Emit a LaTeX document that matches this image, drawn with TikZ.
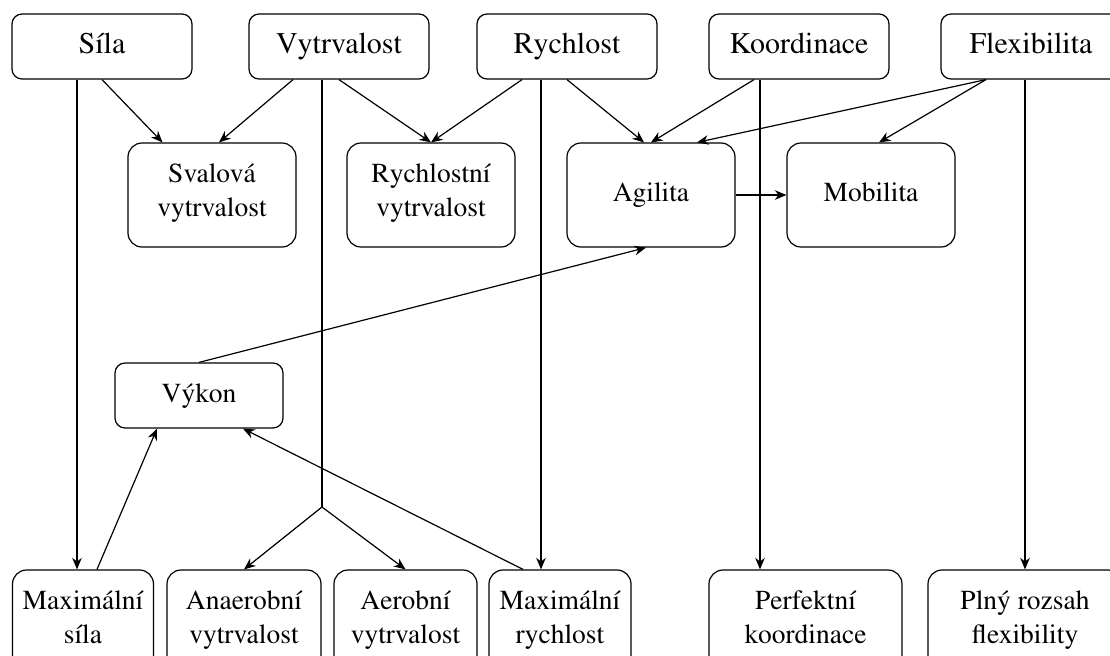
\documentclass[tikz,border=0pt]{standalone}
\usepackage[T1]{fontenc}
\usepackage{mathptmx}
\usetikzlibrary{arrows.meta}
\tikzset{skill-line/.style={line width=0.6pt}}
\tikzset{>={Stealth[length=5.8pt,width=4.8pt]}}
\tikzset{skill-node/.style={draw, line width=0.6pt, inner sep=0, align=center, minimum width=90pt, minimum height=32.5pt, rounded corners=5pt, font=\fontsize{15}{18}\selectfont, execute at begin node=\strut, execute at end node=\strut}}
\tikzset{skill-small/.style={font=\fontsize{13.75}{16.8}\selectfont}}
\tikzset{skill-tall/.style={skill-node, skill-small, minimum width=84pt, minimum height=52pt, rounded corners=7pt}}

\begin{document}
\begin{tikzpicture}[x=0.5pt, y=-0.5pt]
            \useasboundingbox (0,0) rectangle (1110,655);

            % horni rada
            \node[skill-node] (sila) at (102,46.5) {Síla};
            \node[skill-node] (vytrvalost) at (339,46.5) {Vytrvalost};
            \node[skill-node] (rychlost) at (567,46.5) {Rychlost};
            \node[skill-node] (koordinace) at (799,46.5) {Koordinace};
            \node[skill-node] (flexibilita) at (1031,46.5) {Flexibilita};

            % druha rada
            \node[skill-tall] (svalova) at (212,195) {Svalová\\vytrvalost};
            \node[skill-tall] (rychlostni) at (431,195) {Rychlostní\\vytrvalost};
            \node[skill-tall] (agilita) at (651,195) {Agilita};
            \node[skill-tall] (mobilita) at (871,195) {Mobilita};

            \node[skill-node, skill-small, minimum width=84pt] (vykon) at (199,395.5) {Výkon};

            % dolni rada
            \node[skill-tall, minimum width=70.5pt] (maxsila) at (83,622) {Maximální\\síla};
            \node[skill-tall, minimum width=77pt] (anaerobni) at (244,622) {Anaerobní\\vytrvalost};
            \node[skill-tall, minimum width=71.5pt] (aerobni) at (405.5,622) {Aerobní\\vytrvalost};
            \node[skill-tall, minimum width=71pt] (maxrychlost) at (560,622) {Maximální\\rychlost};
            \node[skill-tall, minimum width=96.5pt] (perfektni) at (805.5,622) {Perfektní\\koordinace};
            \node[skill-tall, minimum width=97pt] (plny) at (1025,622) {Plný rozsah\\flexibility};

            \coordinate (vsplit) at (322,507);

            \draw[->, skill-line] (sila.south) -- ([xshift=-24.75pt]svalova.north);
            \draw[->, skill-line] ([xshift=-23pt]vytrvalost.south) -- ([xshift=3.5pt]svalova.north);
            \draw[->, skill-line] (vytrvalost.south) -- (rychlostni.north);
            \draw[->, skill-line] ([xshift=-22.5pt]rychlost.south) -- (rychlostni.north);
            \draw[->, skill-line] (rychlost.south) -- ([xshift=-3.5pt]agilita.north);
            \draw[->, skill-line] ([xshift=-22.5pt]koordinace.south) -- (agilita.north);
            \draw[->, skill-line] ([xshift=-22.5pt]flexibilita.south) -- ([xshift=23pt]agilita.north);
            \draw[->, skill-line] ([xshift=-22.5pt]flexibilita.south) -- ([xshift=4pt]mobilita.north);
            \draw[->, skill-line] (agilita.east) -- (mobilita.west);
            \draw[->, skill-line] (vykon.north) -- ([xshift=-2.5pt]agilita.south);

            \draw[->, skill-line] ([xshift=-12.5pt]sila.south) -- ([xshift=-12.5pt]sila.south |- maxsila.north);
            \draw[skill-line] ([xshift=-8.5pt]vytrvalost.south) -- (vsplit);
            \draw[->, skill-line] (vsplit) -- (anaerobni.north);
            \draw[->, skill-line] (vsplit) -- (aerobni.north);
            \draw[->, skill-line] ([xshift=-13pt]rychlost.south) -- ([xshift=-13pt]rychlost.south |- maxrychlost.north);
            \draw[->, skill-line] ([xshift=-19.5pt]koordinace.south) -- ([xshift=-19.5pt]koordinace.south |- perfektni.north);
            \draw[->, skill-line] (flexibilita.south -| plny.north) -- (plny.north);

            \draw[->, skill-line] ([xshift=7pt]maxsila.north) -- ([xshift=-21pt]vykon.south);
            \draw[->, skill-line] ([xshift=-18.5pt]maxrychlost.north) -- ([xshift=22pt]vykon.south);
\end{tikzpicture}
\end{document}
